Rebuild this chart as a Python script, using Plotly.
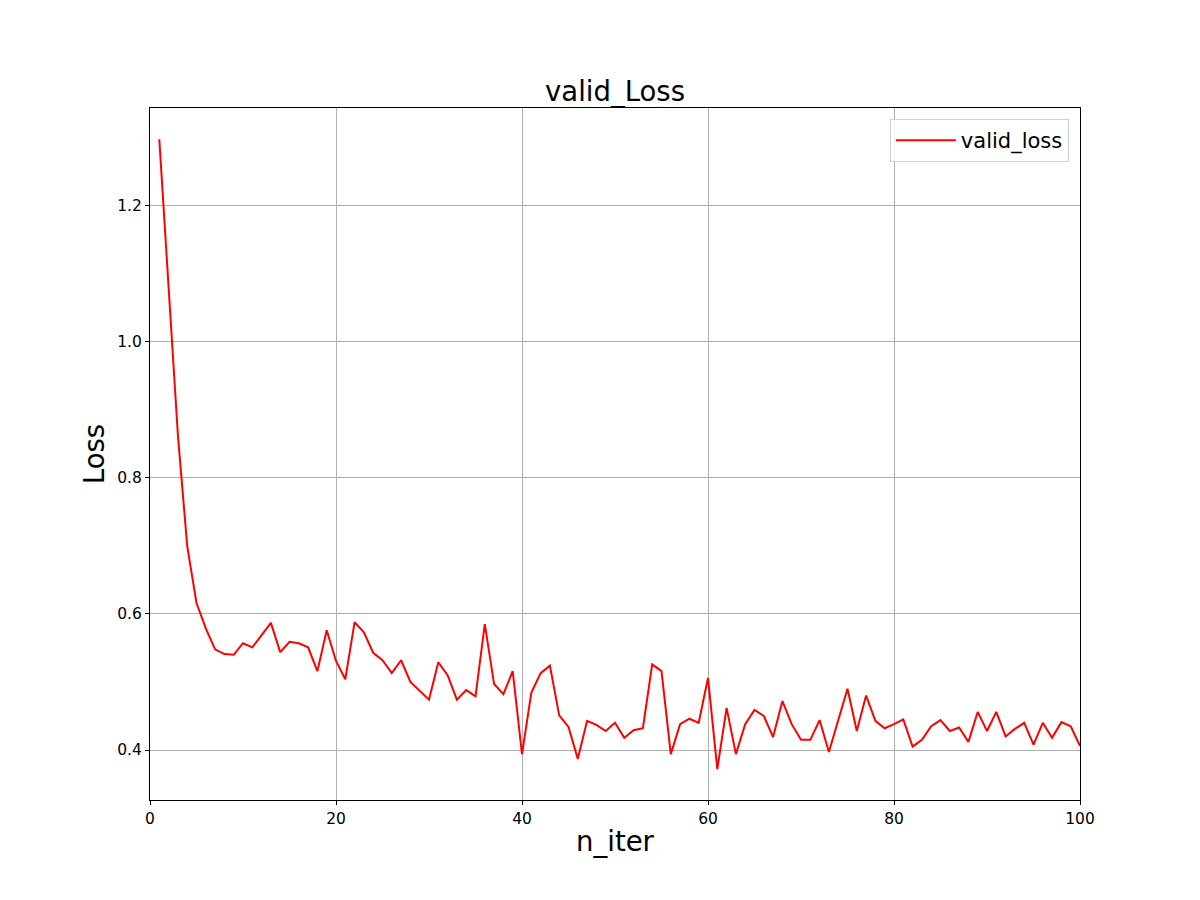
import plotly.graph_objects as go

n_iter = list(range(1, 101))
valid_loss = [
    1.298, 1.076, 0.863, 0.700, 0.616, 0.579, 0.548, 0.541, 0.540, 0.557,
    0.551, 0.569, 0.587, 0.544, 0.559, 0.557, 0.551, 0.516, 0.576, 0.531,
    0.504, 0.588, 0.573, 0.543, 0.532, 0.513, 0.532, 0.500, 0.487, 0.474,
    0.529, 0.510, 0.474, 0.488, 0.479, 0.585, 0.497, 0.482, 0.516, 0.394,
    0.484, 0.513, 0.524, 0.451, 0.434, 0.387, 0.443, 0.437, 0.428, 0.440,
    0.418, 0.429, 0.432, 0.526, 0.516, 0.394, 0.438, 0.446, 0.440, 0.506,
    0.372, 0.462, 0.394, 0.438, 0.459, 0.450, 0.419, 0.472, 0.438, 0.415,
    0.415, 0.444, 0.397, 0.444, 0.490, 0.428, 0.480, 0.443, 0.432, 0.438,
    0.445, 0.405, 0.415, 0.435, 0.444, 0.428, 0.433, 0.412, 0.456, 0.428,
    0.456, 0.420, 0.431, 0.440, 0.408, 0.440, 0.418, 0.441, 0.435, 0.406,
]

fig = go.Figure()
fig.add_trace(go.Scatter(x=n_iter, y=valid_loss, mode="lines", name="valid_loss",
                         line=dict(color="red", width=2)))

axis_style = dict(showline=True, linecolor="black", linewidth=1, mirror=True,
                  showgrid=True, gridcolor="#b0b0b0", gridwidth=1, zeroline=False,
                  ticks="outside", ticklen=4, tickcolor="black",
                  tickfont=dict(size=15.5, color="black"))

# page body adds an 8px offset, so margins are shifted to compensate
fig.update_layout(
    width=1200, height=900,
    paper_bgcolor="white", plot_bgcolor="white",
    font=dict(family="DejaVu Sans", color="black"),
    margin=dict(l=142, r=128, t=100, b=108),
    title=dict(text="valid_Loss", x=(615 - 8) / 1200, xanchor="center", y=1 - 83 / 900,
               yanchor="middle", yref="container", font=dict(size=27.5)),
    showlegend=True,
    legend=dict(x=0.988, y=0.984, xanchor="right", yanchor="top",
                bgcolor="rgba(255,255,255,0.8)", bordercolor="#d0d0d0", borderwidth=1,
                itemwidth=60, font=dict(size=21)),
)
fig.update_xaxes(range=[0, 100], dtick=20, title=dict(text="n_iter", font=dict(size=27.5), standoff=5),
                 **axis_style)
fig.update_yaxes(range=[0.3265, 1.344], tickvals=[0.4, 0.6, 0.8, 1.0, 1.2],
                 ticktext=["0.4", "0.6", "0.8", "1.0", "1.2"],
                 title=dict(text="Loss", font=dict(size=27.5), standoff=4), **axis_style)

fig.write_html("out.html")
